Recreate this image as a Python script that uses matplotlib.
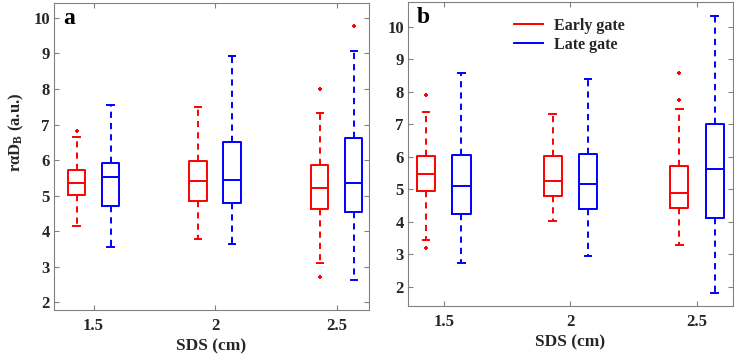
import matplotlib
matplotlib.use("Agg")
import matplotlib.pyplot as plt
from matplotlib.lines import Line2D

plt.rcParams['font.family'] = ['Liberation Serif', 'DejaVu Serif']
plt.rcParams['font.weight'] = 'bold'
plt.rcParams['mathtext.fontset'] = 'custom'
plt.rcParams['mathtext.rm'] = 'Liberation Serif:bold'
plt.rcParams['mathtext.it'] = 'Liberation Serif:italic:bold'
plt.rcParams['mathtext.bf'] = 'Liberation Serif:bold'

# ---------------- data ----------------
sds = [1.5, 2.0, 2.5]
xticklabels = ['1.5', '2', '2.5']
series = ['Early gate', 'Late gate']
colors = ['#ff0000', '#0000ff']

# panel a: [early, late] per SDS
a_whislo = [[4.15, 3.78, 3.11], [3.55, 3.63, 2.63]]
a_q1     = [[5.02, 4.86, 4.61], [4.72, 4.79, 4.55]]
a_med    = [[5.35, 5.41, 5.21], [5.53, 5.43, 5.36]]
a_q3     = [[5.72, 5.97, 5.86], [5.91, 6.50, 6.62]]
a_whishi = [[6.66, 7.49, 7.32], [7.56, 8.92, 9.06]]
a_fliers = [[[6.82], [], [8.0, 2.72]], [[], [], [9.78]]]

# panel b
b_whislo = [[3.44, 4.03, 3.27], [2.74, 2.94, 1.81]]
b_q1     = [[4.95, 4.80, 4.43], [4.24, 4.39, 4.12]]
b_med    = [[5.47, 5.26, 4.88], [5.09, 5.15, 5.61]]
b_q3     = [[6.03, 6.03, 5.70], [6.05, 6.10, 7.01]]
b_whishi = [[7.37, 7.33, 7.47], [8.58, 8.40, 10.33]]
b_fliers = [[[7.91, 3.19], [], [8.59, 7.76]], [[], [], []]]

yticks_a = [2, 3, 4, 5, 6, 7, 8, 9, 10]
yticks_b = [2, 3, 4, 5, 6, 7, 8, 9, 10]

offset = 0.07
boxw = 0.072
capw = 0.026
gray = '#808080'
txt = '#262626'

W, H = 734, 357
fig = plt.figure(figsize=(W / 100, H / 100), dpi=100)
ax_a = fig.add_axes([54 / W, 1 - 310 / H, 315 / W, 307 / H])
ax_b = fig.add_axes([408 / W, 1 - 306 / H, 325 / W, 304 / H])


def draw(ax, whislo, q1, med, q3, whishi, fliers):
    for s in range(2):
        stats = []
        for i in range(len(sds)):
            stats.append(dict(whislo=whislo[s][i], q1=q1[s][i], med=med[s][i],
                              q3=q3[s][i], whishi=whishi[s][i], fliers=fliers[s][i]))
        pos = [x + (offset if s else -offset) for x in sds]
        c = colors[s]
        ax.bxp(stats, positions=pos, widths=boxw, capwidths=capw,
               manage_ticks=False, showfliers=True,
               boxprops=dict(color=c, linewidth=1.4),
               medianprops=dict(color=c, linewidth=1.4),
               whiskerprops=dict(color=c, linewidth=1.4, linestyle=(0, (3.2, 2.6))),
               capprops=dict(color=c, linewidth=1.4),
               flierprops=dict(marker='+', markeredgecolor='#ff0000', markersize=3.5,
                               markeredgewidth=1.4, linestyle='none'))
    ax.set_xticks(sds)
    ax.set_xticklabels(xticklabels)
    for sp in ax.spines.values():
        sp.set_color(gray)
        sp.set_linewidth(0.8)
    ax.tick_params(direction='in', length=3.5, width=0.8, color=gray,
                   top=True, right=True, labelsize=12, labelcolor=txt)
    ax.tick_params(axis='x', pad=6)
    ax.tick_params(axis='y', pad=3)
    ax.set_xlabel('SDS (cm)', fontsize=12.5, fontweight='bold', color=txt, labelpad=3)


draw(ax_a, a_whislo, a_q1, a_med, a_q3, a_whishi, a_fliers)
draw(ax_b, b_whislo, b_q1, b_med, b_q3, b_whishi, b_fliers)

ax_a.set_xlim(1.337, 2.633)
ax_a.set_ylim(1.78, 10.42)
ax_a.set_yticks(yticks_a)
ax_b.set_xlim(1.359, 2.642)
ax_b.set_ylim(1.40, 10.77)
ax_b.set_yticks(yticks_b)
for ax in (ax_a, ax_b):
    for lab in ax.get_xticklabels() + ax.get_yticklabels():
        lab.set_fontweight('bold')

ax_a.set_ylabel('r\u03b1D$_{\\mathrm{B}}$ (a.u.)', fontsize=12,
                fontweight='bold', color=txt)
ax_a.yaxis.set_label_coords(-0.09, 0.58)

ax_a.text(0.028, 0.985, 'a', transform=ax_a.transAxes, ha='left', va='top',
          fontsize=17, fontweight='bold', color='black')
ax_b.text(0.028, 0.985, 'b', transform=ax_b.transAxes, ha='left', va='top',
          fontsize=17, fontweight='bold', color='black')

handles = [Line2D([], [], color=colors[0], linewidth=1.4),
           Line2D([], [], color=colors[1], linewidth=1.4)]
ax_b.legend(handles, series, loc='upper left', bbox_to_anchor=(0.327, 0.948),
            frameon=False, prop=dict(family='Liberation Serif', weight='bold', size=11.5),
            handlelength=1.8, handletextpad=0.7, labelspacing=0.2, labelcolor=txt,
            borderpad=0, borderaxespad=0)

fig.savefig('out.png', dpi=100)
